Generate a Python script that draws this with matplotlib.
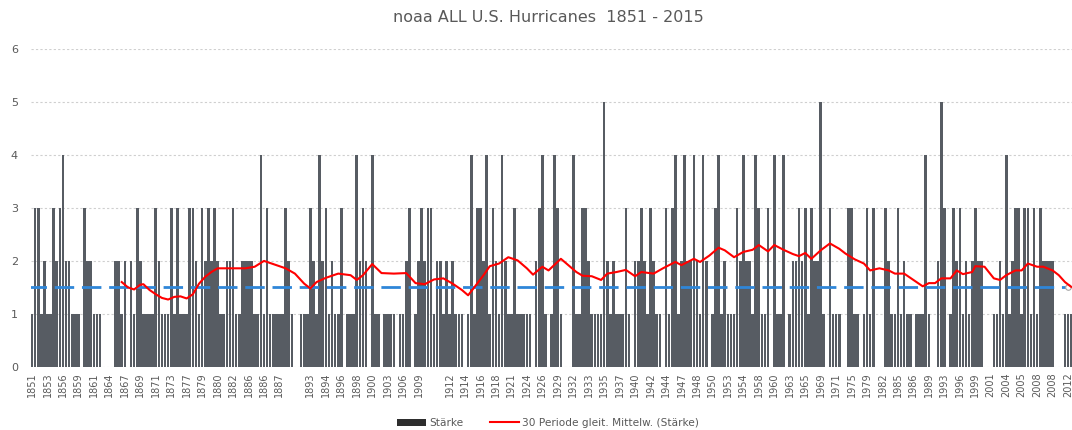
import matplotlib
matplotlib.use("Agg")
import matplotlib.pyplot as plt
from matplotlib.patches import Patch
from matplotlib.lines import Line2D
import numpy as np

# hurricane strength (Saffir-Simpson category), one bar per landfall record
strength = [
    1, 3, 3, 1, 2, 1, 1, 3, 2, 3,
    4, 2, 2, 1, 1, 1, 0, 3, 2, 2,
    1, 1, 1, 0, 0, 0, 0, 2, 2, 1,
    2, 0, 2, 1, 3, 2, 1, 1, 1, 1,
    3, 2, 1, 1, 1, 3, 1, 3, 1, 1,
    1, 3, 3, 2, 1, 3, 2, 3, 2, 3,
    2, 1, 1, 2, 2, 3, 1, 1, 2, 2,
    2, 2, 1, 1, 4, 1, 3, 1, 1, 1,
    1, 1, 3, 2, 1, 0, 0, 1, 1, 1,
    3, 2, 1, 4, 2, 3, 1, 2, 1, 1,
    3, 0, 1, 1, 1, 4, 2, 3, 2, 0,
    4, 1, 1, 0, 1, 1, 1, 1, 0, 1,
    1, 2, 3, 0, 1, 2, 3, 2, 3, 3,
    1, 2, 2, 1, 2, 1, 2, 1, 1, 1,
    0, 1, 4, 1, 3, 3, 2, 4, 1, 3,
    2, 1, 4, 2, 1, 1, 3, 1, 1, 1,
    1, 1, 0, 2, 3, 4, 1, 0, 1, 4,
    3, 1, 0, 0, 0, 4, 1, 1, 3, 3,
    2, 1, 1, 1, 1, 5, 2, 1, 2, 1,
    1, 1, 3, 1, 0, 2, 2, 3, 2, 1,
    3, 2, 1, 1, 0, 3, 1, 3, 4, 1,
    2, 4, 2, 2, 4, 2, 1, 4, 2, 0,
    1, 3, 4, 1, 2, 1, 1, 1, 3, 2,
    4, 2, 2, 1, 4, 3, 1, 1, 3, 0,
    4, 1, 1, 4, 0, 1, 2, 2, 3, 2,
    3, 1, 3, 2, 2, 5, 1, 0, 3, 1,
    1, 1, 0, 0, 3, 3, 1, 1, 0, 1,
    3, 1, 3, 0, 0, 0, 3, 2, 1, 1,
    3, 1, 2, 1, 1, 0, 1, 1, 1, 4,
    1, 0, 0, 2, 5, 3, 0, 1, 3, 2,
    3, 1, 2, 1, 2, 3, 2, 2, 0, 0,
    0, 1, 1, 2, 1, 4, 1, 2, 3, 3,
    1, 3, 3, 1, 3, 1, 3, 2, 2, 2,
    2, 0, 0, 0, 1, 1, 1,
]

# year labels shown on the axis (every 5th record)
tick_years = [
    "1851", "1853", "1856", "1859", "1861", "1864", "1867", "1869", "1871", "1873",
    "1877", "1879", "1880", "1882", "1886", "1886", "1887", "", "1893", "1894",
    "1896", "1898", "1900", "1903", "1906", "1909", "", "1912", "1914", "1916",
    "1918", "1921", "1924", "1926", "1929", "1932", "1933", "1935", "1937", "1940",
    "1942", "1944", "1947", "1948", "1950", "1953", "1954", "1958", "1960", "1963",
    "1965", "1969", "1971", "1975", "1979", "1982", "1985", "1986", "1989", "1993",
    "1996", "1999", "2001", "2004", "2005", "2008", "2008", "2012",
]

# 30 period moving average (record index, value)
ma_rec = [29, 31, 33, 35, 36, 38, 40, 42, 44, 46, 48, 50, 52, 54, 56, 58, 60, 65, 69, 72,
          75, 78, 82, 85, 88, 90, 92, 95, 99, 103, 105, 107, 110, 113, 117, 121, 124, 127, 130, 133,
          136, 139, 141, 143, 146, 148, 151, 154, 157, 160, 162, 165, 167, 171, 174, 176, 178, 181, 184, 186,
          189, 192, 195, 197, 201, 204, 208, 210, 214, 216, 219, 222, 224, 227, 230, 233, 235, 238, 240, 243,
          246, 248, 250, 252, 255, 258, 261, 263, 266, 269, 271, 274, 277, 279, 282, 285, 288, 290, 292, 294,
          297, 299, 301, 304, 305, 308, 311, 313, 315, 318, 320, 322, 325, 327, 330, 332, 334, 336]
ma_val = [1.60, 1.50, 1.46, 1.55, 1.56, 1.45, 1.37, 1.30, 1.27, 1.32, 1.33, 1.29, 1.37, 1.57, 1.70, 1.79, 1.86, 1.86, 1.86, 1.89,
          2.00, 1.94, 1.86, 1.76, 1.57, 1.48, 1.60, 1.68, 1.76, 1.73, 1.64, 1.73, 1.94, 1.77, 1.76, 1.77, 1.58, 1.56, 1.65, 1.67,
          1.57, 1.45, 1.35, 1.50, 1.73, 1.90, 1.95, 2.07, 2.01, 1.86, 1.74, 1.89, 1.82, 2.04, 1.89, 1.79, 1.72, 1.71, 1.64, 1.76,
          1.79, 1.83, 1.71, 1.79, 1.76, 1.86, 1.98, 1.92, 2.04, 1.98, 2.10, 2.25, 2.20, 2.07, 2.17, 2.21, 2.30, 2.18, 2.30, 2.21,
          2.13, 2.09, 2.15, 2.04, 2.20, 2.33, 2.23, 2.14, 2.03, 1.95, 1.82, 1.86, 1.82, 1.76, 1.76, 1.64, 1.52, 1.58, 1.58, 1.67,
          1.67, 1.82, 1.75, 1.79, 1.90, 1.89, 1.67, 1.64, 1.73, 1.82, 1.82, 1.95, 1.89, 1.89, 1.82, 1.73, 1.60, 1.51]

mean_level = 1.5
title = "noaa ALL U.S. Hurricanes  1851 - 2015"

txt = "#595959"
fig = plt.figure(figsize=(10.72, 4.30), dpi=100)
ax = fig.add_axes([30.5 / 1072, 0.1472, 1042.2 / 1072, 0.7381])

x = np.arange(len(strength))
ax.bar(x, strength, width=0.85, color="#575c63", linewidth=0, zorder=2)

# horizontal reference line
ax.plot([-1.7, len(strength) - 2], [mean_level, mean_level], color="#2f86d8", lw=2,
        dashes=(7, 2.8), zorder=3)
ax.plot([-1.7, len(strength) - 2], [mean_level, mean_level], ls="none", marker="o", ms=4,
        mfc="white", mec="#a6a6a6", mew=0.8, zorder=4)

ax.plot(ma_rec, ma_val, color="red", lw=1.5, zorder=5)

ax.set_xlim(-0.5, len(strength) - 0.5)
ax.set_ylim(0, 6)
ax.set_yticks(range(0, 7))
ax.set_xticks(x[::5])
ax.set_xticklabels(tick_years, rotation=90, fontsize=7, color=txt)
ax.tick_params(axis="x", length=0, pad=4)
ax.tick_params(axis="y", length=0, pad=9, labelsize=8, labelcolor=txt)
ax.yaxis.grid(True, color="#cfcfcf", lw=0.8, ls=(0, (2, 2)), zorder=0)
ax.set_axisbelow(True)
for s in ax.spines.values():
    s.set_visible(False)

fig.text(548 / 1072, 1 - 18 / 430, title, ha="center", va="center", fontsize=11.5, color=txt)

handles = [Patch(facecolor="#2e2e2e", edgecolor="none"),
           Line2D([], [], color="red", lw=1.5)]
fig.legend(handles, ["Stärke", "30 Periode gleit. Mittelw. (Stärke)"], loc="center",
           bbox_to_anchor=(548 / 1072, 1 - 423 / 430), ncol=2, frameon=False,
           fontsize=7.6, labelcolor=txt, handlelength=2.7, handleheight=0.6,
           columnspacing=2.6, handletextpad=0.3)

fig.savefig("out.png", dpi=100)
